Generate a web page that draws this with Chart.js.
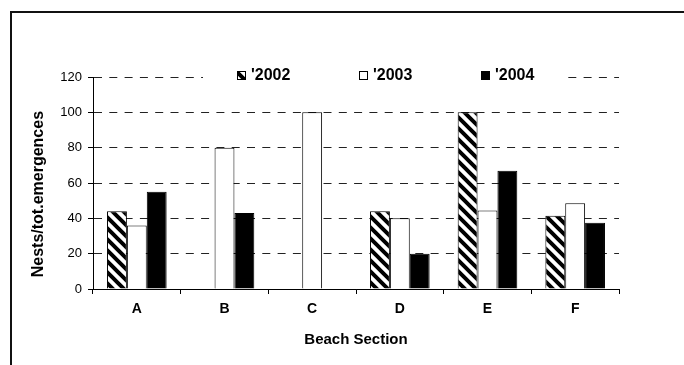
<!DOCTYPE html>
<html>
<head>
<meta charset="utf-8">
<script src="https://cdn.jsdelivr.net/npm/chart.js@4.4.0/dist/chart.umd.min.js"></script>
<style>
  html, body { margin: 0; padding: 0; background: #fff; }
  #wrap { position: relative; width: 684px; height: 365px; overflow: hidden; }
  #frame { position: absolute; left: 10px; top: 11px; width: 700px; height: 400px;
           border-top: 2px solid #111; border-left: 2px solid #111; }
  #chart { position: absolute; left: 0; top: 0; }
</style>
</head>
<body>
<div id="wrap">
  <div id="frame"></div>
  <canvas id="chart" width="684" height="365"></canvas>
</div>
<script>
// data
const categories = ['A', 'B', 'C', 'D', 'E', 'F'];
const seriesLabels = ["'2002", "'2003", "'2004"];
const values2002 = [44, 0, 0, 44, 100, 41.5];
const values2003 = [36, 80, 100, 40, 44.5, 48.5];
const values2004 = [55, 43, 0, 20, 67, 37.5];
const yTicks = [0, 20, 40, 60, 80, 100, 120];

const FONT = 'Arial, "Liberation Sans", sans-serif';

// diagonal hatch for the 2002 bars
function hatchPattern() {
    const s = 11;
    const c = document.createElement('canvas');
    c.width = s;
    c.height = s;
    const g = c.getContext('2d');
    g.fillStyle = '#fff';
    g.fillRect(0, 0, s, s);
    g.strokeStyle = '#000';
    g.lineWidth = 4;
    g.beginPath();
    for (let k = -1; k <= 1; k++) {
        g.moveTo(k * s - 2, -2);
        g.lineTo(k * s + s + 2, s + 2);
    }
    g.stroke();
    return g.createPattern(c, 'repeat');
}

// legend sits on the top gridline, inside the plot
const insideLegend = {
    id: 'insideLegend',
    afterDraw(chart) {
        const { ctx, chartArea } = chart;
        const y = chartArea.top - 2;
        ctx.save();
        ctx.fillStyle = '#fff';
        ctx.fillRect(chartArea.left + 110, y - 8, 365, 17);
        ctx.font = 'bold 16px ' + FONT;
        ctx.textBaseline = 'middle';
        chart.data.datasets.forEach((ds, i) => {
            const x = chartArea.left + 144 + i * 122;
            ctx.fillStyle = ds.backgroundColor;
            ctx.fillRect(x, y - 4, 9, 9);
            ctx.strokeStyle = '#000';
            ctx.lineWidth = 1;
            ctx.strokeRect(x + 0.5, y - 3.5, 8, 8);
            ctx.fillStyle = '#000';
            ctx.fillText(ds.label, x + 14, y + 1);
        });
        ctx.restore();
    }
};

const ctx = document.getElementById('chart').getContext('2d');
new Chart(ctx, {
    type: 'bar',
    data: {
        labels: categories,
        datasets: [
            { label: seriesLabels[0], data: values2002, backgroundColor: hatchPattern() },
            { label: seriesLabels[1], data: values2003, backgroundColor: '#fff' },
            { label: seriesLabels[2], data: values2004, backgroundColor: '#000' }
        ]
    },
    options: {
        responsive: false,
        animation: false,
        devicePixelRatio: 1,
        layout: { padding: { top: 77, right: 65, bottom: 0, left: 0 } },
        datasets: {
            bar: { borderColor: '#000', borderWidth: 1, categoryPercentage: 0.68, barPercentage: 1 }
        },
        plugins: {
            legend: { display: false },
            tooltip: { enabled: false }
        },
        scales: {
            x: {
                grid: { drawOnChartArea: false, drawTicks: true, tickLength: 5, color: '#000', offset: true },
                border: { display: true, color: '#000', width: 1 },
                ticks: { color: '#000', font: { family: FONT, size: 14, weight: 'bold' }, padding: 7, maxRotation: 0 },
                title: {
                    display: true, text: 'Beach Section', color: '#000',
                    font: { family: FONT, size: 15, weight: 'bold' },
                    padding: { top: 0, bottom: 16 }
                },
                afterFit(scale) { scale.height = 76; }
            },
            y: {
                min: yTicks[0],
                max: yTicks[yTicks.length - 1],
                grid: { color: '#222', lineWidth: 1, drawTicks: true, tickLength: 5, tickColor: '#000' },
                border: { display: true, color: '#000', width: 1, dash: [8, 7.3] },
                ticks: { stepSize: yTicks[1] - yTicks[0], color: '#000', font: { family: FONT, size: 13 }, padding: 6 },
                title: {
                    display: true, text: 'Nests/tot.emergences     ', color: '#000',
                    font: { family: FONT, size: 16, weight: 'bold' },
                    padding: { top: 29, bottom: 0 }
                },
                afterFit(scale) { scale.width = 93; }
            }
        }
    },
    plugins: [insideLegend]
});
</script>
</body>
</html>
